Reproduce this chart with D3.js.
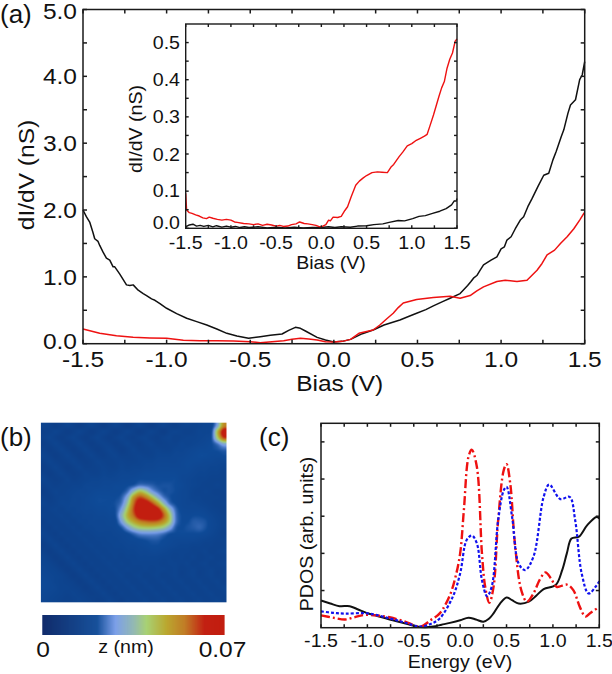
<!DOCTYPE html>
<html><head><meta charset="utf-8">
<style>html,body{margin:0;padding:0;background:#fff}svg{display:block}text{font-family:"Liberation Sans",Arial,sans-serif;fill:#111}</style>
<script src="https://cdn.jsdelivr.net/npm/d3@7"></script></head><body>
<script>
// Panel (a) main curves [bias, dI/dV]
const aBlack=[[-1.5,2.0],[-1.48,1.9],[-1.46,1.82],[-1.44,1.66],[-1.43,1.57],[-1.41,1.53],[-1.40,1.47],[-1.38,1.37],[-1.36,1.28],[-1.34,1.25],[-1.32,1.15],[-1.31,1.15],[-1.28,1.04],[-1.24,0.88],[-1.22,0.87],[-1.2,0.88],[-1.17,0.8],[-1.14,0.75],[-1.12,0.72],[-1.09,0.67],[-1.07,0.65],[-1.04,0.6],[-1.0,0.53],[-0.94,0.45],[-0.88,0.38],[-0.82,0.33],[-0.76,0.28],[-0.7,0.22],[-0.64,0.155],[-0.58,0.115],[-0.51,0.08],[-0.44,0.105],[-0.38,0.125],[-0.31,0.145],[-0.27,0.2],[-0.23,0.245],[-0.2,0.23],[-0.17,0.19],[-0.1,0.095],[-0.05,0.055],[0,0.025],[0.05,0.035],[0.1,0.065],[0.17,0.15],[0.235,0.205],[0.3,0.28],[0.395,0.355],[0.45,0.41],[0.495,0.455],[0.55,0.51],[0.595,0.565],[0.65,0.63],[0.695,0.68],[0.755,0.75],[0.8,0.87],[0.82,0.93],[0.835,0.98],[0.855,1.02],[0.875,1.1],[0.895,1.18],[0.94,1.25],[0.975,1.3],[1.0,1.42],[1.02,1.45],[1.035,1.55],[1.06,1.6],[1.085,1.72],[1.115,1.85],[1.135,1.9],[1.16,2.05],[1.185,2.17],[1.22,2.35],[1.255,2.52],[1.285,2.55],[1.31,2.75],[1.33,2.88],[1.36,3.1],[1.375,3.2],[1.4,3.45],[1.415,3.57],[1.445,3.65],[1.47,3.95],[1.485,4.02],[1.5,4.22]];
const aRed=[[-1.5,0.22],[-1.4,0.155],[-1.3,0.12],[-1.2,0.095],[-1.1,0.085],[-1.0,0.08],[-0.9,0.05],[-0.8,0.045],[-0.7,0.045],[-0.6,0.04],[-0.5,0.03],[-0.44,0.015],[-0.37,0.03],[-0.3,0.045],[-0.25,0.065],[-0.2,0.08],[-0.15,0.07],[-0.1,0.055],[-0.05,0.03],[0,0.025],[0.05,0.035],[0.1,0.065],[0.15,0.155],[0.235,0.205],[0.275,0.28],[0.315,0.37],[0.355,0.455],[0.385,0.54],[0.415,0.61],[0.495,0.66],[0.595,0.69],[0.695,0.71],[0.755,0.68],[0.815,0.72],[0.855,0.79],[0.895,0.85],[0.975,0.93],[1.025,0.95],[1.095,0.93],[1.155,0.95],[1.215,1.1],[1.245,1.2],[1.275,1.33],[1.32,1.4],[1.355,1.5],[1.395,1.6],[1.435,1.72],[1.47,1.85],[1.495,1.95],[1.5,1.96]];
// Inset curves
const inRed=[[-1.5,0.094],[-1.49,0.049],[-1.46,0.042],[-1.43,0.04],[-1.39,0.036],[-1.35,0.033],[-1.31,0.028],[-1.27,0.026],[-1.24,0.03],[-1.2,0.027],[-1.15,0.024],[-1.1,0.022],[-1.05,0.024],[-1.0,0.022],[-0.96,0.017],[-0.93,0.016],[-0.86,0.013],[-0.8,0.012],[-0.75,0.01],[-0.7,0.012],[-0.65,0.008],[-0.6,0.011],[-0.55,0.009],[-0.5,0.006],[-0.46,0.008],[-0.42,0.005],[-0.37,0.006],[-0.33,0.01],[-0.28,0.012],[-0.24,0.017],[-0.19,0.013],[-0.15,0.012],[-0.1,0.01],[-0.06,0.008],[-0.03,0.005],[0,0.004],[0.05,0.01],[0.08,0.022],[0.1,0.02],[0.13,0.03],[0.18,0.029],[0.22,0.032],[0.26,0.048],[0.29,0.058],[0.33,0.085],[0.38,0.116],[0.42,0.127],[0.46,0.135],[0.5,0.142],[0.56,0.15],[0.62,0.152],[0.67,0.151],[0.73,0.15],[0.77,0.165],[0.8,0.172],[0.86,0.193],[0.9,0.205],[0.95,0.222],[1.0,0.228],[1.05,0.237],[1.1,0.243],[1.14,0.248],[1.17,0.253],[1.2,0.275],[1.24,0.305],[1.27,0.33],[1.3,0.355],[1.33,0.378],[1.36,0.395],[1.39,0.431],[1.42,0.455],[1.45,0.472],[1.48,0.504],[1.5,0.51]];
const inBlack=[[-1.5,0.002],[-1.49,0.005],[-1.46,0.009],[-1.42,0.011],[-1.38,0.006],[-1.34,0.008],[-1.3,0.005],[-1.25,0.008],[-1.2,0.004],[-1.16,0.007],[-1.1,0.003],[-1.05,0.006],[-1,0.003],[-0.95,0.005],[-0.9,0.002],[-0.85,0.004],[-0.8,0.002],[-0.7,0.004],[-0.6,0.001],[-0.5,0.003],[-0.4,0.001],[-0.3,0.003],[-0.2,0.001],[-0.1,0.002],[0,0.002],[0.08,0.004],[0.15,0.002],[0.22,0.004],[0.32,0.003],[0.4,0.006],[0.5,0.007],[0.58,0.01],[0.68,0.012],[0.75,0.016],[0.85,0.021],[0.92,0.02],[1.01,0.026],[1.08,0.032],[1.15,0.034],[1.23,0.04],[1.31,0.046],[1.38,0.053],[1.44,0.063],[1.47,0.074],[1.49,0.073],[1.5,0.08]];
// Panel (c) PDOS curves
const cBlack=[[-1.5,0.73],[-1.4,0.65],[-1.3,0.58],[-1.19,0.58],[-1.1,0.49],[-1.01,0.4],[-0.9,0.32],[-0.76,0.22],[-0.6,0.12],[-0.47,0.03],[-0.38,0.01],[-0.29,0.03],[-0.2,0.08],[-0.11,0.13],[0,0.2],[0.09,0.27],[0.17,0.22],[0.25,0.16],[0.31,0.24],[0.36,0.385],[0.43,0.65],[0.5,0.815],[0.56,0.74],[0.63,0.65],[0.74,0.7],[0.82,0.86],[0.9,1.04],[1.03,1.15],[1.1,1.55],[1.15,2.0],[1.2,2.4],[1.28,2.45],[1.37,2.76],[1.47,2.98],[1.5,2.94]];
const cRed=[[-1.5,0.33],[-1.37,0.27],[-1.24,0.22],[-1.14,0.28],[-1.04,0.34],[-0.9,0.33],[-0.76,0.28],[-0.6,0.17],[-0.43,0.03],[-0.32,0.2],[-0.22,0.385],[-0.11,0.88],[-0.05,1.37],[0,2.0],[0.04,3.16],[0.09,4.6],[0.125,4.79],[0.18,4.33],[0.235,2.0],[0.27,1.1],[0.315,0.67],[0.36,1.1],[0.41,2.9],[0.47,4.24],[0.5,4.4],[0.54,3.88],[0.59,2.27],[0.66,1.0],[0.72,0.7],[0.79,0.92],[0.86,1.3],[0.92,1.49],[0.98,1.32],[1.04,1.1],[1.15,1.16],[1.22,1.01],[1.29,0.56],[1.35,0.3],[1.4,0.39],[1.5,0.56]];
const cBlue=[[-1.5,0.44],[-1.37,0.4],[-1.24,0.38],[-1.0,0.385],[-0.76,0.25],[-0.6,0.14],[-0.43,0.03],[-0.32,0.1],[-0.22,0.25],[-0.08,0.83],[0,1.46],[0.07,2.36],[0.125,2.48],[0.18,2.27],[0.235,1.28],[0.29,0.85],[0.34,1.1],[0.41,2.9],[0.47,3.7],[0.5,3.79],[0.56,2.98],[0.63,1.73],[0.7,1.55],[0.79,1.91],[0.9,3.52],[0.96,3.85],[1.08,3.46],[1.18,3.52],[1.24,2.89],[1.31,1.46],[1.385,0.92],[1.46,1.1],[1.5,1.25]];
// Tick labels
const aXTicks=[-1.5,-1.0,-0.5,0,0.5,1.0,1.5];
const aXLabels=["-1.5","-1.0","-0.5","0.0","0.5","1.0","1.5"];
const aYTicks=[0,1,2,3,4,5];
const aYLabels=["0.0","1.0","2.0","3.0","4.0","5.0"];
const inYTicks=[0,0.1,0.2,0.3,0.4,0.5];
const inYLabels=["0.0","0.1","0.2","0.3","0.4","0.5"];
// Panel (b) topography, % of colour-bar range, 31 columns x 30 rows
const zGrid=[
[24,23,21,23,25,23,21,23,25,23,21,23,25,23,21,23,25,23,21,23,25,23,22,24,25,24,25,26,28,44,74],
[22,23,25,23,21,23,25,23,21,23,25,23,21,23,25,23,21,23,25,23,21,24,25,24,23,24,26,26,30,64,94],
[23,25,23,21,23,25,23,21,23,25,23,21,23,25,23,22,24,25,23,22,24,25,23,24,25,25,26,27,31,58,84],
[21,23,25,23,21,23,25,23,21,23,24,23,21,23,25,23,22,24,25,23,23,24,24,26,25,26,27,28,30,36,46],
[23,21,23,25,23,21,23,25,23,21,23,25,23,21,23,25,23,23,24,25,24,24,26,26,27,28,29,29,30,31,33],
[25,23,21,23,25,23,21,23,25,23,22,24,25,23,23,24,25,24,24,26,26,26,27,27,28,29,30,30,29,29,30],
[23,25,23,22,23,25,23,22,23,25,24,23,24,25,24,24,25,26,26,27,27,27,27,28,29,29,29,28,28,27,27],
[21,23,25,23,21,23,25,23,23,24,25,24,24,26,25,26,26,27,27,28,28,28,28,28,29,28,27,27,26,26,25],
[23,21,23,25,23,22,23,25,24,24,26,25,26,27,27,27,28,29,29,29,29,29,29,28,28,27,26,26,25,25,24],
[25,23,22,23,25,23,24,25,26,26,27,27,27,28,28,29,30,30,30,30,30,30,30,28,27,26,25,25,24,24,24],
[23,24,23,24,24,25,25,27,27,27,28,28,29,29,30,32,36,35,33,31,31,31,30,29,27,26,25,24,24,25,24],
[21,23,25,24,25,26,27,27,28,29,29,29,29,30,35,50,62,55,42,35,31,31,30,28,27,25,24,25,24,23,24],
[23,22,24,25,25,27,27,28,29,30,30,30,30,33,46,72,84,78,64,48,36,31,29,28,27,25,25,24,24,24,23],
[25,23,24,26,26,27,27,28,29,30,30,30,31,36,54,80,96,96,86,70,50,35,30,28,27,27,26,25,24,23,24],
[23,24,25,24,26,26,27,28,28,29,29,30,31,42,62,84,100,100,100,92,72,50,34,29,28,28,28,27,25,24,23],
[24,23,24,25,24,26,26,27,27,28,28,29,31,48,66,80,96,100,100,98,82,60,36,30,29,30,30,29,27,25,24],
[22,24,23,24,25,24,26,26,27,27,27,28,29,42,58,68,76,80,82,80,72,58,36,30,30,32,32,31,28,26,24],
[23,22,24,23,24,25,24,26,26,27,27,27,28,32,42,52,58,60,60,58,54,44,32,30,31,32,33,31,28,26,24],
[25,23,22,24,23,24,25,24,25,26,26,26,27,28,30,34,38,39,39,38,35,31,30,30,30,30,30,29,27,25,23],
[23,25,23,22,24,23,24,25,24,25,25,26,26,27,28,29,30,31,32,32,30,29,28,28,28,28,27,26,25,24,24],
[21,23,25,23,22,24,23,24,25,24,25,25,26,26,27,27,28,29,30,30,29,28,27,26,26,25,25,24,24,23,24],
[23,21,23,25,23,22,24,23,24,25,24,25,25,25,26,26,27,27,28,28,27,26,25,25,25,24,24,25,23,24,25],
[25,23,21,23,25,23,22,24,23,24,25,24,25,24,25,25,26,26,26,26,25,25,24,25,24,25,23,24,25,23,24],
[26,25,23,21,23,25,23,22,24,23,24,25,24,25,24,25,25,25,25,25,24,25,25,24,25,23,24,25,23,24,25],
[27,26,25,23,21,23,25,23,22,24,23,24,25,24,25,24,24,25,24,25,25,24,25,23,24,25,23,24,25,23,24],
[28,27,26,25,23,21,23,25,23,22,24,23,24,25,23,24,25,23,24,25,23,24,25,23,24,25,23,24,25,23,24],
[29,28,26,25,24,23,21,23,25,23,22,24,23,24,25,23,24,25,23,24,25,23,24,25,23,24,25,23,24,25,23],
[29,28,27,25,25,24,23,21,23,25,23,22,24,23,24,25,23,24,25,23,24,25,23,24,25,23,24,25,23,24,25],
[28,27,26,25,24,25,24,23,22,23,25,23,22,24,23,24,25,23,24,25,23,24,25,23,24,25,23,24,25,23,24],
[27,26,25,24,23,24,25,24,23,22,23,25,23,22,24,23,24,25,23,24,25,23,24,25,23,24,25,23,24,25,23]];
const cmapStops=[0,0.3,0.4,0.5,0.57,0.68,0.78,0.89,1];
const cmapColors=["#0a2667","#0e4a97","#779ce8","#8fb6b0","#a5d070","#b9a52a","#bf7a22","#c21e10","#c21e10"];

const W=612,H=674;
const svg=d3.select("body").append("svg").attr("width",W).attr("height",H);
const INK="#1a1a1a";
function frame(g,x,y,xt,xm,yt,ym,o){
  const [x0,x1]=x.range(),[y0,y1]=y.range(),L=o.len,lw=o.lw;
  const ax=g.append("g").attr("stroke",INK).attr("stroke-width",lw).attr("fill","none");
  ax.append("rect").attr("x",x0).attr("y",y1).attr("width",x1-x0).attr("height",y0-y1);
  const seg=(a,b,c,d)=>ax.append("line").attr("x1",a).attr("y1",b).attr("x2",c).attr("y2",d);
  xt.concat(xm).forEach(v=>{const p=x(v);seg(p,y0,p,y0-L);seg(p,y1,p,y1+L);});
  yt.concat(ym).forEach(v=>{const p=y(v);seg(x0,p,x0+L,p);seg(x1,p,x1-L,p);});
}
function curve(g,d,x,y,col,w,dash,c){
  const p=g.append("path").datum(d).attr("fill","none").attr("stroke",col).attr("stroke-width",w).attr("stroke-linejoin","round")
   .attr("d",d3.line().x(a=>x(a[0])).y(a=>y(a[1])).curve(c||d3.curveLinear));
  if(dash)p.attr("stroke-dasharray",dash);
}
function text(s,x,y,size,anchor,rot,sx){
  const t=svg.append("text").text(s).attr("font-size",size).attr("text-anchor",anchor||"middle");
  t.attr("transform",`translate(${x},${y})${rot?" rotate(-90)":""} scale(${sx||1},1)`);
  return t;
}
const minorX=[-1.25,-0.75,-0.25,0.25,0.75,1.25];
const BIG=22.5,BSX=1.09,MID=18.5,MSX=1.06;

// (a)
{const g=svg.append("g");
 const x=d3.scaleLinear([-1.5,1.5],[83,584.7]),y=d3.scaleLinear([0,5],[343.7,9.5]);
 curve(g,aBlack,x,y,"#111",1.5);curve(g,aRed,x,y,"#ee1111",1.5);
 frame(g,x,y,aXTicks,minorX,aYTicks,[0.5,1.5,2.5,3.5,4.5],{len:4,lw:1.5});
 aXTicks.forEach((v,i)=>text(aXLabels[i],x(v),367,BIG,"middle",false,BSX));
 const yOff=[5,7.7,7.7,7.7,7.7,9];
 aYTicks.forEach((v,i)=>text(aYLabels[i],77,y(v)+yOff[i],BIG,"end",false,BSX));
 text("dI/dV (nS)",34,175,BIG,"middle",true,BSX);
 text("Bias (V)",339.7,391,BIG,"middle",false,BSX);
 text("(a)",0,23,26,"start");
}
// inset
{const g=svg.append("g");
 const x=d3.scaleLinear([-1.5,1.5],[185.7,457]),y=d3.scaleLinear([0,0.55],[228.3,24]);
 curve(g,inBlack,x,y,"#111",1.4);curve(g,inRed,x,y,"#ee1111",1.4);
 frame(g,x,y,aXTicks,minorX,inYTicks,[0.05,0.15,0.25,0.35,0.45],{len:3,lw:1.4});
 aXTicks.forEach((v,i)=>text(aXLabels[i],x(v),248.5,MID,"middle",false,MSX));
 const yOff=[0.5,6,6.5,6.5,6.5,6.6];
 inYTicks.forEach((v,i)=>text(inYLabels[i],180,y(v)+yOff[i],MID,"end",false,MSX));
 text("dI/dV (nS)",142,129,MID,"middle",true,MSX);
 text("Bias (V)",331,269,MID,"middle",false,MSX);
}
// (b)
{const X0=40.7,X1=226.7,Y0=422.7,Y1=602.3;
 const color=d3.scaleLinear().domain(cmapStops).range(cmapColors).clamp(true);
 const rows=zGrid.length,cols=zGrid[0].length,pw=Math.round(X1-X0),ph=Math.round(Y1-Y0);
 const cv=document.createElement("canvas");cv.width=pw;cv.height=ph;
 const ctx=cv.getContext("2d"),img=ctx.createImageData(pw,ph);
 const cub=(a,b,c,d,t)=>b+0.5*t*(c-a+t*(2*a-5*b+4*c-d+t*(3*(b-c)+d-a)));
 const at=(r,c)=>zGrid[Math.max(0,Math.min(rows-1,r))][Math.max(0,Math.min(cols-1,c))];
 for(let py=0;py<ph;py++)for(let px=0;px<pw;px++){
  const u=(px+0.5)/pw*cols-0.5,v=(py+0.5)/ph*rows-0.5,i=Math.floor(u),j=Math.floor(v),tu=u-i,tv=v-j;
  const r=[-1,0,1,2].map(k=>cub(at(j+k,i-1),at(j+k,i),at(j+k,i+1),at(j+k,i+2),tu));
  const z=cub(r[0],r[1],r[2],r[3],tv)/100,c=d3.rgb(color(z)),o=(py*pw+px)*4;
  img.data[o]=c.r;img.data[o+1]=c.g;img.data[o+2]=c.b;img.data[o+3]=255;
 }
 ctx.putImageData(img,0,0);
 svg.append("image").attr("x",X0).attr("y",Y0).attr("width",X1-X0).attr("height",Y1-Y0).attr("href",cv.toDataURL());
 const cx=d3.scaleLinear([0,1],[42.3,224]);
 svg.append("g").selectAll("rect").data(d3.range(0,1,1/182)).join("rect")
  .attr("x",d=>cx(d)).attr("y",615).attr("width",1.6).attr("height",20).attr("fill",d=>color(d));
 text("0",43,656.7,BIG,"middle",false,BSX);
 text("z (nm)",126,652.7,MID,"middle",false,MSX);
 text("0.07",222.5,656.7,BIG,"middle",false,BSX);
 text("(b)",0,446,26,"start");
}
// (c)
{const g=svg.append("g");
 const x=d3.scaleLinear([-1.5,1.5],[321,599.3]),y=d3.scaleLinear([0,5.5],[627.7,423.3]);
 const cv=d3.curveCatmullRom.alpha(0.5);
 curve(g,cBlack,x,y,"#111",2,null,cv);
 curve(g,cRed,x,y,"#ee1111",2.4,"9,3,2,3",cv);
 curve(g,cBlue,x,y,"#1111ee",2.2,"3,2",cv);
 frame(g,x,y,aXTicks,minorX,[1,2,3,4,5],[],{len:3.5,lw:1.5});
 aXTicks.forEach((v,i)=>text(aXLabels[i],x(v),646.7,MID,"middle",false,MSX));
 text("Energy (eV)",460,668,MID,"middle",false,MSX);
 text("PDOS (arb. units)",313,534,MID,"middle",true,MSX);
 text("(c)",259,446,26,"start");
}
</script></body></html>
